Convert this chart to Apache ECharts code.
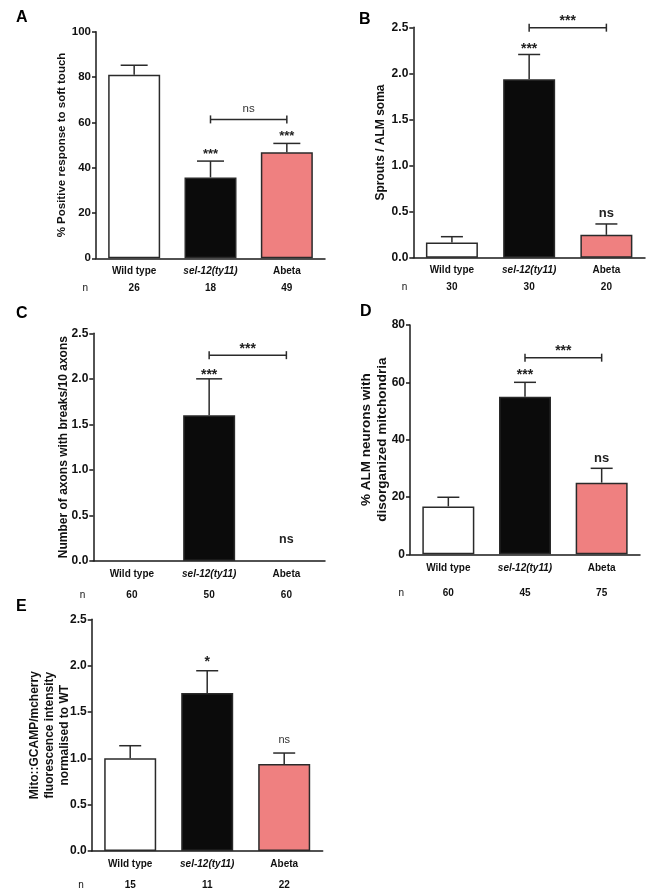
<!DOCTYPE html>
<html>
<head>
  <meta charset="utf-8">
  <title>sel-12 / Abeta panels</title>
  <script src="https://cdn.jsdelivr.net/npm/echarts@6/dist/echarts.min.js"></script>
</head>
<body style="margin:0;background:#fff">
  <div id="main" style="width:664px;height:893px"></div>
  <script>
    var groups = ['Wild type', 'sel-12(ty11)', 'Abeta'];
    var barColors = ['#ffffff', '#0b0b0b', '#ef8080'];

    // A - soft touch response
    var meanA = [81, 35.7, 46.8];
    var upperA = [85.2, 42.9, 50.7];
    var nA = ['26', '18', '49'];
    var marksA = [[1, 47.6, '***'], [2, 55.2, '***']];
    var bracketA = [1, 2, 61.3, 'ns'];

    // B - sprouts
    var meanB = [0.165, 1.935, 0.248];
    var upperB = [0.228, 2.205, 0.366];
    var nB = ['30', '30', '20'];
    var marksB = [[1, 2.308, '***'], [2, 0.477, 'ns']];
    var bracketB = [1, 2, 2.496, '***'];

    // C - axon breaks
    var meanC = [0, 1.6, 0];
    var upperC = [null, 2.0, null];
    var nC = ['60', '50', '60'];
    var marksC = [[1, 2.086, '***'], [2, 0.23, 'ns']];
    var bracketC = [1, 2, 2.26, '***'];

    // D - disorganized mitochondria
    var meanD = [16.7, 55, 25];
    var upperD = [19.9, 60, 30];
    var nD = ['60', '45', '75'];
    var marksD = [[1, 63.7, '***'], [2, 33.2, 'ns']];
    var bracketD = [1, 2, 68.6, '***'];

    // E - Mito::GCAMP
    var meanE = [1.0, 1.705, 0.94];
    var upperE = [1.136, 1.945, 1.057];
    var nE = ['15', '11', '22'];
    var marksE = [[1, 2.08, '*'], [2, 1.19, 'ns']];

    var FONT = '"Liberation Sans", Arial, sans-serif';

    var panels = [
      { letter: 'A', lx: 16, ly: 10, grid: { left: 96, top: 31.7, width: 229, height: 226.6 },
        max: 100, interval: 20, digits: 0, tick: 11.5,
        name: '% Positive response to soft touch', nameSize: 11.5, nameGap: 27, nameLH: 14,
        mean: meanA, upper: upperA, n: nA, marks: marksA, bracket: bracketA,
        cap: 27, labMargin: 8, nOffset: 30, nGap: 8,
        markStyle: { '***': [13, 'bold', '#222'], 'ns': [11.5, 'normal', '#333'] },
        brStyle: [11.5, 'normal', '#333'] },
      { letter: 'B', lx: 359, ly: 12, grid: { left: 413.3, top: 27.3, width: 231.7, height: 230.4 },
        max: 2.5, interval: 0.5, digits: 1, tick: 12,
        name: 'Sprouts / ALM soma', nameSize: 12, nameGap: 26, nameLH: 14,
        mean: meanB, upper: upperB, n: nB, marks: marksB, bracket: bracketB,
        cap: 22, labMargin: 8, nOffset: 29.5, nGap: 6,
        markStyle: { '***': [14, 'bold', '#222'], 'ns': [13, 'bold', '#222'] },
        brStyle: [14, 'bold', '#222'] },
      { letter: 'C', lx: 16, ly: 306, grid: { left: 93.3, top: 333.3, width: 231.7, height: 227.7 },
        max: 2.5, interval: 0.5, digits: 1, tick: 12,
        name: 'Number of axons with breaks/10 axons', nameSize: 12, nameGap: 22.5, nameLH: 14,
        mean: meanC, upper: upperC, n: nC, marks: marksC, bracket: bracketC,
        cap: 26, labMargin: 8.5, nOffset: 34, nGap: 8,
        markStyle: { '***': [14, 'bold', '#222'], 'ns': [12.5, 'bold', '#222'] },
        brStyle: [14, 'bold', '#222'] },
      { letter: 'D', lx: 360, ly: 304, grid: { left: 410, top: 325, width: 230, height: 229.3 },
        max: 80, interval: 20, digits: 0, tick: 12,
        name: '% ALM neurons with\ndisorganized mitchondria', nameSize: 13.5, nameGap: 19, nameLH: 16.5,
        mean: meanD, upper: upperD, n: nD, marks: marksD, bracket: bracketD,
        cap: 22, labMargin: 9, nOffset: 38.5, nGap: 6,
        markStyle: { '***': [14, 'bold', '#222'], 'ns': [13, 'bold', '#222'] },
        brStyle: [14, 'bold', '#222'] },
      { letter: 'E', lx: 16, ly: 599, grid: { left: 91.7, top: 619.3, width: 231, height: 231.7 },
        max: 2.5, interval: 0.5, digits: 1, tick: 12,
        name: 'Mito::GCAMP/mcherry\nfluorescence intensity\nnormalised to WT', nameSize: 12, nameGap: 20, nameLH: 15,
        mean: meanE, upper: upperE, n: nE, marks: marksE, bracket: null,
        cap: 22, labMargin: 8.5, nOffset: 34, nGap: 8,
        markStyle: { '*': [14, 'bold', '#222'], 'ns': [11, 'normal', '#333'] },
        brStyle: [11, 'normal', '#333'] }
    ];

    // vertical shift from glyph centre to text middle
    function glyphShift(text, size) {
      return text.indexOf('*') >= 0 ? size * 0.28 : -size * 0.03;
    }

    var option = {
      animation: false,
      backgroundColor: '#fff',
      title: [], grid: [], xAxis: [], yAxis: [], series: []
    };

    panels.forEach(function (p, i) {
      option.title.push({
        text: p.letter, left: p.lx, top: p.ly, padding: 0,
        textStyle: { fontFamily: FONT, fontSize: 16, fontWeight: 'bold', color: '#000' }
      });
      option.grid.push(Object.assign({ containLabel: false }, p.grid));

      option.xAxis.push({
        type: 'category', gridIndex: i, data: groups,
        axisLine: { lineStyle: { color: '#1a1a1a', width: 1.5 } },
        axisTick: { alignWithLabel: true, length: 5, lineStyle: { color: '#1a1a1a', width: 1.5 } },
        axisLabel: {
          interval: 0, margin: p.labMargin, fontFamily: FONT, fontSize: 10, fontWeight: 'bold', color: '#111',
          formatter: function (v) { return v.indexOf('sel-12') === 0 ? '{i|' + v + '}' : v; },
          rich: { i: { fontFamily: FONT, fontSize: 10, fontWeight: 'bold', fontStyle: 'italic', color: '#111' } }
        }
      });
      option.xAxis.push({
        type: 'category', gridIndex: i, data: p.n, position: 'bottom', offset: p.nOffset,
        axisLine: { show: false }, axisTick: { show: false },
        axisLabel: { interval: 0, margin: 0, verticalAlign: 'middle', fontFamily: FONT, fontSize: 10, fontWeight: 'bold', color: '#111' },
        name: 'n', nameLocation: 'start', nameGap: p.nGap, nameMoveOverlap: false,
        nameTextStyle: { fontFamily: FONT, fontSize: 10, color: '#111', verticalAlign: 'middle' }
      });

      option.yAxis.push({
        type: 'value', gridIndex: i, min: 0, max: p.max, interval: p.interval,
        splitLine: { show: false },
        axisLine: { show: true, lineStyle: { color: '#1a1a1a', width: 1.5 } },
        axisTick: { show: true, length: 4, lineStyle: { color: '#1a1a1a', width: 1.5 } },
        axisLabel: {
          margin: 5, fontFamily: FONT, fontSize: p.tick, fontWeight: 'bold', color: '#111',
          formatter: (function (d) { return function (v) { return v.toFixed(d); }; })(p.digits)
        },
        name: p.name, nameLocation: 'middle', nameGap: p.nameGap, nameMoveOverlap: false,
        nameTextStyle: { fontFamily: FONT, fontSize: p.nameSize, fontWeight: 'bold', color: '#111', lineHeight: p.nameLH, align: 'center' }
      });

      option.series.push({
        type: 'bar', xAxisIndex: 2 * i, yAxisIndex: i, barWidth: 52,
        data: p.mean.map(function (v, k) {
          return { value: v, itemStyle: { color: barColors[k], borderColor: '#2a2a2a', borderWidth: v > 0 ? 1.5 : 0 } };
        })
      });

      var errData = [];
      p.mean.forEach(function (v, k) { if (p.upper[k] != null) errData.push([k, v, p.upper[k]]); });
      option.series.push({
        type: 'custom', xAxisIndex: 2 * i, yAxisIndex: i, data: errData, z: 3,
        renderItem: (function (cap) {
          return function (params, api) {
            var a = api.coord([api.value(0), api.value(1)]);
            var b = api.coord([api.value(0), api.value(2)]);
            var st = { stroke: '#2a2a2a', lineWidth: 1.5 };
            return { type: 'group', children: [
              { type: 'line', shape: { x1: a[0], y1: a[1], x2: b[0], y2: b[1] }, style: st },
              { type: 'line', shape: { x1: b[0] - cap / 2, y1: b[1], x2: b[0] + cap / 2, y2: b[1] }, style: st }
            ] };
          };
        })(p.cap)
      });

      option.series.push({
        type: 'custom', xAxisIndex: 2 * i, yAxisIndex: i, data: p.marks.map(function (m) { return [m[0], m[1]]; }), z: 4,
        renderItem: (function (marks, styles) {
          return function (params, api) {
            var m = marks[params.dataIndex];
            var s = styles[m[2]];
            var c = api.coord([m[0], m[1]]);
            return { type: 'text', x: c[0], y: c[1] + glyphShift(m[2], s[0]),
              style: { text: m[2], align: 'center', verticalAlign: 'middle', fill: s[2],
                font: s[1] + ' ' + s[0] + 'px ' + FONT } };
          };
        })(p.marks, p.markStyle)
      });

      if (p.bracket) {
        option.series.push({
          type: 'custom', xAxisIndex: 2 * i, yAxisIndex: i, data: [[p.bracket[0], p.bracket[2]]], z: 4,
          renderItem: (function (br, s) {
            return function (params, api) {
              var a = api.coord([br[0], br[2]]);
              var b = api.coord([br[1], br[2]]);
              var st = { stroke: '#2a2a2a', lineWidth: 1.5 };
              return { type: 'group', children: [
                { type: 'line', shape: { x1: a[0], y1: a[1], x2: b[0], y2: b[1] }, style: st },
                { type: 'line', shape: { x1: a[0], y1: a[1] - 4, x2: a[0], y2: a[1] + 4 }, style: st },
                { type: 'line', shape: { x1: b[0], y1: b[1] - 4, x2: b[0], y2: b[1] + 4 }, style: st },
                { type: 'text', x: (a[0] + b[0]) / 2, y: a[1] - 10 + glyphShift(br[3], s[0]),
                  style: { text: br[3], align: 'center', verticalAlign: 'middle', fill: s[2],
                    font: s[1] + ' ' + s[0] + 'px ' + FONT } }
              ] };
            };
          })(p.bracket, p.brStyle)
        });
      }
    });

    var chart = echarts.init(document.getElementById('main'), null, { renderer: 'canvas' });
    chart.setOption(option);
  </script>
</body>
</html>
